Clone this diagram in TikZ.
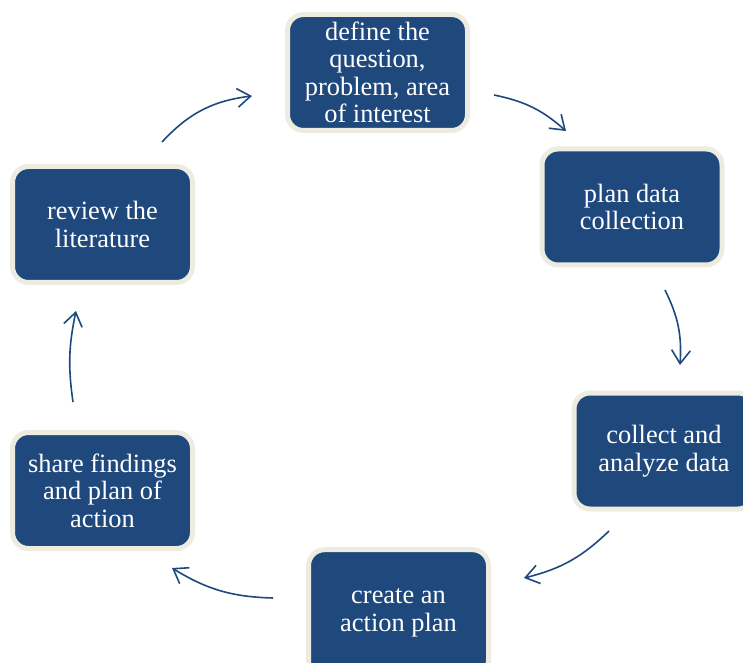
\documentclass[tikz,border=0pt]{standalone}
\usepackage{fontspec}
\setmainfont{Liberation Serif}
\usepackage{xcolor}
\usetikzlibrary{arrows.meta}
\definecolor{cycleblue}{HTML}{1F497D}
\definecolor{cyclecream}{HTML}{EEECE1}
\tikzset{
stepbox/.style={rectangle, rounded corners=12pt, draw=cyclecream, fill=cycleblue, line width=3.75pt, minimum width=135pt, minimum height=87pt, inner sep=2pt, align=center, text=white, font=\fontsize{19.8}{20.6}\selectfont},
cyclearrow/.style={draw=cycleblue, line width=1.2pt, -{Straight Barb[length=10pt,width=14pt]}},
}

\begin{document}
\begin{tikzpicture}[x=0.75pt,y=-0.75pt]
\clip (0,0) rectangle (743,663);
\node[stepbox] at (377.5,72.5) (define) {define the\\question,\\problem, area\\of interest};
\node[stepbox] at (632,207) (plan) {plan data\\collection};
\node[stepbox] at (664,451) (collect) {collect and\\analyze data};
\node[stepbox, minimum height=95pt] at (398.5,613) (create) {create an\\action plan};
\node[stepbox] at (102.5,490.5) (share) {share findings\\and plan of\\action};
\node[stepbox] at (102.5,224.5) (review) {review the\\literature};

% arrow ends
\coordinate (a1) at (162,142);
\coordinate (b1) at (252,96);
\coordinate (a2) at (494,95);
\coordinate (b2) at (566,131);
\coordinate (a3) at (665,290);
\coordinate (b3) at (680,365);
\coordinate (a4) at (609,531);
\coordinate (b4) at (524,578);
\coordinate (a5) at (273,598);
\coordinate (b5) at (172,568);
\coordinate (a6) at (73,402);
\coordinate (b6) at (76,311);

\draw[cyclearrow, bend left = 20] (a1) to (b1);
\draw[cyclearrow, bend left = 15] (a2) to (b2);
\draw[cyclearrow, bend left = 15] (a3) to (b3);
\draw[cyclearrow, bend left = 15] (a4) to (b4);
\draw[cyclearrow, bend left = 15] (a5) to (b5);
\draw[cyclearrow, bend left = 10] (a6) to (b6);
\end{tikzpicture}
\end{document}
